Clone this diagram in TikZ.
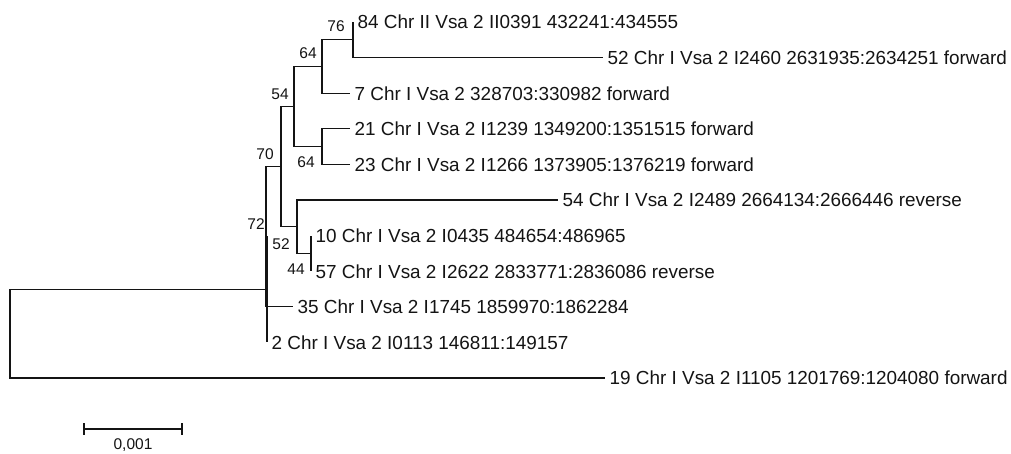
\documentclass[tikz,border=0pt]{standalone}
\usepackage{fontspec}
\setmainfont{Liberation Sans}
\usepackage{tikz}
\usetikzlibrary{
    positioning,
    calc
}
\tikzset{
  branch/.style = {line width=1.2pt, treeC},
  taxon/.style  = {anchor=west, inner xsep=4.5pt, inner ysep=0pt,
                   text height=13.6pt, text depth=0pt, text=treeC,
                   font=\fontsize{18.9}{20}\selectfont},
  boot/.style   = {inner sep=0pt, text=treeC,
                   font=\fontsize{15.5}{16}\selectfont},
  sbar/.style   = {line width=1.2pt, treeC}
}
\definecolor{treeC}{RGB}{20,20,20}

\begin{document}
\begin{tikzpicture}[x=1pt, y=-1pt]
  \useasboundingbox (0,0) rectangle (1011,453);

  %% ── Internal nodes ────────────────────────────────────────────
  \coordinate (root) at ( 10,333.8);
  \coordinate (nP)   at (267,289.6);
  \coordinate (n72)  at (266,236.7);
  \coordinate (n70)  at (281,166.6);
  \coordinate (n54)  at (294,106.6);
  \coordinate (n64a) at (322, 66.5);
  \coordinate (n76)  at (353, 39.8);
  \coordinate (n64b) at (322,146.6);
  \coordinate (n52)  at (297,226.8);
  \coordinate (n44)  at (311,253.4);

  %% ── Taxa (leaf ends) ──────────────────────────────────────────
  \node[taxon] (t84) at (353, 22.0) {84 Chr II Vsa 2 II0391 432241:434555};
  \node[taxon] (t52) at (603, 57.6) {52 Chr I Vsa 2 I2460 2631935:2634251 forward};
  \node[taxon] (t7)  at (350, 93.2) {7 Chr I Vsa 2 328703:330982 forward};
  \node[taxon] (t21) at (350,128.8) {21 Chr I Vsa 2 I1239 1349200:1351515 forward};
  \node[taxon] (t23) at (350,164.4) {23 Chr I Vsa 2 I1266 1373905:1376219 forward};
  \node[taxon] (t54) at (558,200.0) {54 Chr I Vsa 2 I2489 2664134:2666446 reverse};
  \node[taxon] (t10) at (311,235.6) {10 Chr I Vsa 2 I0435 484654:486965};
  \node[taxon] (t57) at (311,271.2) {57 Chr I Vsa 2 I2622 2833771:2836086 reverse};
  \node[taxon] (t35) at (293,306.8) {35 Chr I Vsa 2 I1745 1859970:1862284};
  \node[taxon] (t2)  at (267,342.4) {2 Chr I Vsa 2 I0113 146811:149157};
  \node[taxon] (t19) at (605,378.0) {19 Chr I Vsa 2 I1105 1201769:1204080 forward};

  %% ── Branches ──────────────────────────────────────────────────
  % root
  \draw[branch] (root) |- (nP);
  \draw[branch] (root) |- (t19.west);
  % unlabelled node above the root
  \draw[branch] (nP) |- (n72);
  \draw[branch] (nP) |- (t2.west);
  % 72
  \draw[branch] (n72) |- (n70);
  \draw[branch] (n72) |- (t35.west);
  % 70
  \draw[branch] (n70) |- (n54);
  \draw[branch] (n70) |- (n52);
  % 54
  \draw[branch] (n54) |- (n64a);
  \draw[branch] (n54) |- (n64b);
  % 64 (upper)
  \draw[branch] (n64a) |- (n76);
  \draw[branch] (n64a) |- (t7.west);
  % 76
  \draw[branch] (n76) |- (t84.west);
  \draw[branch] (n76) |- (t52.west);
  % 64 (lower)
  \draw[branch] (n64b) |- (t21.west);
  \draw[branch] (n64b) |- (t23.west);
  % 52
  \draw[branch] (n52) |- (t54.west);
  \draw[branch] (n52) |- (n44);
  % 44
  \draw[branch] (n44) |- (t10.west);
  \draw[branch] (n44) |- (t57.west);

  %% ── Bootstrap values ──────────────────────────────────────────
  \node[boot] (b76)  at (336, 26.5) {76};
  \node[boot] (b64a) at (308, 53.0) {64};
  \node[boot] (b54)  at (280, 94.0) {54};
  \node[boot] (b64b) at (306,162.0) {64};
  \node[boot] (b70)  at (265,154.5) {70};
  \node[boot] (b72)  at (256,224.0) {72};
  \node[boot] (b52)  at (281,244.0) {52};
  \node[boot] (b44)  at (296,269.0) {44};

  %% ── Scale bar ─────────────────────────────────────────────────
  \coordinate (sbL) at ( 84,429);
  \coordinate (sbR) at (182,429);
  \draw[sbar] (sbL) -- (sbR);
  \draw[sbar] ($(sbL)+(0,-6)$) -- ($(sbL)+(0,6)$);
  \draw[sbar] ($(sbR)+(0,-6)$) -- ($(sbR)+(0,6)$);
  \node[boot] (sblab) at (133,445) {0,001};

\end{tikzpicture}
\end{document}
